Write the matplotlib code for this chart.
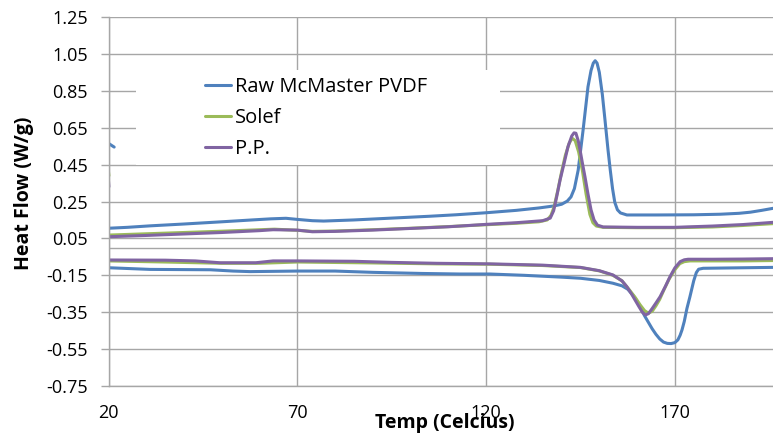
import numpy as np
import matplotlib.pyplot as plt
from matplotlib.patches import Rectangle

''' DSC traces: heat flow [W/g] vs temperature [C] '''
# Raw McMaster PVDF
raw_start_T = [20.0, 21.5]
raw_start_q = [0.565, 0.545]
raw_heat_T = [20, 25, 31, 40, 50, 58, 63, 67, 70, 74, 77, 85, 95, 105, 112, 120,
              128, 134, 138, 140, 141.5, 142.5, 143.4, 144.4, 145.7, 147, 147.8, 148.4,
              148.9, 149.4, 150, 150.8, 151.5, 152.3, 152.9, 153.5, 154.1, 154.8, 155.6,
              157.3, 165, 175, 182, 187, 190, 193, 196]
raw_heat_q = [0.105, 0.110, 0.118, 0.128, 0.140, 0.150, 0.156, 0.159, 0.153, 0.146,
              0.144, 0.150, 0.160, 0.170, 0.178, 0.189, 0.202, 0.215, 0.226, 0.235,
              0.252, 0.275, 0.32, 0.42, 0.637, 0.872, 0.96, 1.0, 1.013, 1.0, 0.95,
              0.83, 0.692, 0.53, 0.42, 0.32, 0.245, 0.205, 0.188, 0.177, 0.177, 0.178,
              0.181, 0.186, 0.192, 0.202, 0.213]
raw_cool_T = [20, 31, 47, 53, 57.5, 70, 80, 90, 103, 113, 121, 130, 140, 145, 150,
              153.6, 156, 157.5, 159, 160, 161, 162, 163, 164, 165, 166, 167, 168, 169,
              170, 170.8, 171.4, 171.9, 172.5, 173.2, 174, 175, 175.7, 176.3, 177.5,
              185, 196]
raw_cool_q = [-0.109, -0.118, -0.12, -0.127, -0.13, -0.127, -0.127, -0.134, -0.14,
              -0.143, -0.143, -0.15, -0.16, -0.166, -0.178, -0.193, -0.207, -0.225,
              -0.26, -0.29, -0.33, -0.37, -0.405, -0.44, -0.47, -0.495, -0.512, -0.519,
              -0.52, -0.515, -0.5, -0.475, -0.446, -0.40, -0.33, -0.266, -0.18, -0.135,
              -0.117, -0.112, -0.11, -0.107]

# Solef
sol_start_T = [20.0, 20.1]
sol_start_q = [0.41, 0.39]
sol_heat_T = [20, 30, 40, 50, 60, 64, 70, 74, 80, 90, 100, 110, 120, 128, 134, 136.2,
              137.2, 138, 139, 140, 141, 142, 142.8, 143.6, 144.5, 145.5, 146.5, 147.5,
              148.3, 149.2, 151, 160, 170, 180, 188, 196]
sol_heat_q = [0.068, 0.075, 0.082, 0.089, 0.097, 0.100, 0.094, 0.088, 0.090, 0.097,
              0.105, 0.114, 0.124, 0.132, 0.140, 0.150, 0.175, 0.22, 0.31, 0.41, 0.50,
              0.565, 0.593, 0.58, 0.52, 0.42, 0.29, 0.18, 0.135, 0.117, 0.11, 0.108,
              0.108, 0.112, 0.12, 0.13]
sol_cool_T = [20, 35, 50, 60, 70, 90, 107, 121, 135, 145, 150, 153.6, 156, 158,
              159.5, 160.8, 162, 163, 164, 165, 166, 167.2, 168.5, 170, 171.3, 172.5,
              174, 180, 188, 196]
sol_cool_q = [-0.072, -0.078, -0.085, -0.085, -0.078, -0.083, -0.088, -0.09, -0.097,
              -0.108, -0.126, -0.15, -0.18, -0.23, -0.27, -0.31, -0.342, -0.355, -0.345,
              -0.315, -0.28, -0.225, -0.17, -0.12, -0.087, -0.076, -0.072, -0.072,
              -0.072, -0.07]

# P.P.
pp_start_T = [20.0, 20.1]
pp_start_q = [0.36, 0.33]
pp_heat_T = [20, 30, 40, 50, 60, 63.6, 70, 74, 80, 90, 100, 110, 120, 128, 135, 137,
             137.9, 138.7, 139.6, 140.7, 141.7, 142.7, 143.3, 143.8, 144.4, 144.9,
             145.5, 146.2, 147, 147.8, 148.6, 149.5, 151, 160, 170, 180, 188, 196]
pp_heat_q = [0.059, 0.066, 0.074, 0.082, 0.092, 0.097, 0.095, 0.086, 0.088, 0.095,
             0.104, 0.113, 0.126, 0.135, 0.146, 0.16, 0.2, 0.275, 0.366, 0.46, 0.547,
             0.605, 0.622, 0.62, 0.58, 0.529, 0.46, 0.384, 0.29, 0.205, 0.15, 0.122,
             0.112, 0.11, 0.11, 0.117, 0.125, 0.137]
pp_cool_T = [20, 35, 43, 49.5, 59, 63.6, 70, 85, 95, 107, 121, 135, 145, 150, 153.6,
             156, 157.3, 158.5, 159.5, 160.5, 161.4, 162.2, 163, 164, 165, 166.1,
             167.5, 168.7, 170, 171.4, 172.5, 173.5, 180, 188, 196]
pp_cool_q = [-0.067, -0.068, -0.072, -0.082, -0.082, -0.072, -0.072, -0.074, -0.08,
             -0.085, -0.088, -0.095, -0.107, -0.125, -0.148, -0.18, -0.212, -0.25,
             -0.285, -0.32, -0.35, -0.365, -0.358, -0.33, -0.30, -0.266, -0.21, -0.158,
             -0.11, -0.076, -0.066, -0.063, -0.063, -0.062, -0.06]

labels = ['Raw McMaster PVDF', 'Solef', 'P.P.']
colors = ['#4F81BD', '#9BBB59', '#8064A2']
y_ticks = np.arange(-0.75, 1.26, 0.2)
x_ticks = [20, 70, 120, 170]


def join(*segs):
    # segments separated by NaN so they are not connected
    T, q = [], []
    for t, v in segs:
        T += list(t) + [np.nan]
        q += list(v) + [np.nan]
    return np.array(T), np.array(q)


series = [
    join((raw_start_T, raw_start_q), (raw_heat_T, raw_heat_q), (raw_cool_T, raw_cool_q)),
    join((sol_start_T, sol_start_q), (sol_heat_T, sol_heat_q), (sol_cool_T, sol_cool_q)),
    join((pp_start_T, pp_start_q), (pp_heat_T, pp_heat_q), (pp_cool_T, pp_cool_q)),
]

''' Plot '''
plt.rcParams['font.family'] = ['Open Sans', 'DejaVu Sans']
grid_c = '#a6a6a6'

fig = plt.figure(figsize=(7.73, 4.34), dpi=100)
ax = fig.add_axes([108.5/773, 1 - 386/434, 1 - 108.5/773, (386 - 17)/434])

for (T, q), lab, c in zip(series, labels, colors):
    ax.plot(T, q, color=c, lw=2.2, label=lab, solid_capstyle='round',
            solid_joinstyle='round')

ax.set_xlim(20, 196)
ax.set_ylim(-0.75, 1.25)
ax.set_xticks(x_ticks)
ax.set_yticks(y_ticks)
ax.set_yticklabels(['%.2f' % v for v in y_ticks])
ax.set_axisbelow(True)
ax.grid(True, color=grid_c, lw=1.0)
ax.axhline(0, color=grid_c, lw=1.0, zorder=0.6)

for s in ['top', 'right']:
    ax.spines[s].set_visible(False)
for s in ['left', 'bottom']:
    ax.spines[s].set_color(grid_c)
    ax.spines[s].set_linewidth(1.0)
ax.tick_params(axis='y', length=6, color=grid_c, width=1.0, pad=9, labelsize=13)
ax.tick_params(axis='x', length=0, pad=13, labelsize=13)

ax.set_xlabel('Temp (Celcius)', fontsize=14, fontweight='bold')
ax.xaxis.set_label_coords((445 - 108.5)/664.5, (386 - 413)/369)
ax.set_ylabel('Heat Flow (W/g)', fontsize=14, fontweight='bold')
ax.yaxis.set_label_coords((34 - 108.5)/664.5, (386 - 193)/369)

# legend area blanks out the grid behind it
ax.add_patch(Rectangle((0.0414, 0.599), 0.548, 0.257, transform=ax.transAxes,
                       facecolor='white', edgecolor='none', zorder=1))
ax.legend(loc='upper left', bbox_to_anchor=(205/773, 1 - 77/434),
          bbox_transform=fig.transFigure, frameon=False, fontsize=14.5,
          borderpad=0, borderaxespad=0, handlelength=1.3, handletextpad=0.2,
          labelspacing=0.55)

fig.savefig('out.png', dpi=100)
